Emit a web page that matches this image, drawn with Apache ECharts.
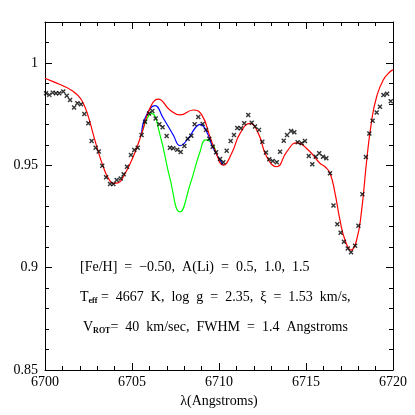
<!DOCTYPE html>
<html>
<head>
<meta charset="utf-8">
<script src="https://cdn.jsdelivr.net/npm/echarts@6/dist/echarts.min.js"></script>
<style>
  html, body { margin: 0; padding: 0; background: #fff; }
  #chart { width: 415px; height: 415px; }
</style>
</head>
<body>
<div id="chart"></div>
<script>
// observed spectrum (crosses)
const obsWave = [
  6700.06, 6700.25, 6700.44, 6700.63, 6700.82, 6701.05, 6701.25, 6701.44, 6701.67, 6701.86,
  6702.07, 6702.26, 6702.49, 6702.68, 6702.91, 6703.09, 6703.29, 6703.51, 6703.74, 6703.93,
  6704.12, 6704.35, 6704.52, 6704.71, 6704.94, 6705.13, 6705.33, 6705.55, 6705.75, 6705.98,
  6706.17, 6706.36, 6706.57, 6706.76, 6706.99, 6707.18, 6707.37, 6707.60, 6707.80, 6708.01,
  6708.20, 6708.41, 6708.60, 6708.81, 6709.06, 6709.25, 6709.44, 6709.64, 6709.83, 6710.06,
  6710.25, 6710.44, 6710.67, 6710.86, 6711.05, 6711.26, 6711.45, 6711.68, 6711.88, 6712.07,
  6712.30, 6712.49, 6712.70, 6712.89, 6713.09, 6713.32, 6713.51, 6713.72, 6713.91, 6714.14,
  6714.33, 6714.52, 6714.75, 6714.94, 6715.16, 6715.36, 6715.56, 6715.76, 6715.98, 6716.17,
  6716.38, 6716.58, 6716.80, 6716.99, 6717.18, 6717.40, 6717.59, 6717.82, 6718.01, 6718.24,
  6718.44, 6718.64, 6718.83, 6719.06, 6719.25, 6719.45, 6719.66, 6719.87
];
const obsFlux = [
  0.9852, 0.9844, 0.9855, 0.9852, 0.9852, 0.9860, 0.9840, 0.9819, 0.9782, 0.9803,
  0.9798, 0.9751, 0.9705, 0.9619, 0.9586, 0.9567, 0.9498, 0.9442, 0.9409, 0.9409,
  0.9428, 0.9436, 0.9456, 0.9493, 0.9550, 0.9575, 0.9586, 0.9648, 0.9713, 0.9753,
  0.9765, 0.9729, 0.9701, 0.9686, 0.9643, 0.9586, 0.9583, 0.9576, 0.9565, 0.9594,
  0.9630, 0.9644, 0.9701, 0.9736, 0.9702, 0.9673, 0.9630, 0.9591, 0.9564, 0.9531,
  0.9515, 0.9571, 0.9619, 0.9648, 0.9682, 0.9681, 0.9705, 0.9746, 0.9708, 0.9689,
  0.9673, 0.9615, 0.9562, 0.9529, 0.9521, 0.9515, 0.9566, 0.9620, 0.9648, 0.9668,
  0.9661, 0.9612, 0.9608, 0.9619, 0.9545, 0.9505, 0.9542, 0.9559, 0.9542, 0.9534,
  0.9461, 0.9304, 0.9212, 0.9171, 0.9127, 0.9094, 0.9075, 0.9107, 0.9205, 0.9358,
  0.9541, 0.9655, 0.9718, 0.9758, 0.9786, 0.9843, 0.9850, 0.9813
];

// synthetic spectrum, A(Li) = 0.5 (red, full range)
const redWave = [
  6700.00, 6700.57, 6701.15, 6701.54, 6701.92, 6702.20, 6702.49, 6702.78, 6703.06, 6703.35,
  6703.64, 6703.93, 6704.20, 6704.50, 6705.07, 6705.56, 6706.03, 6706.51, 6707.18, 6707.76,
  6708.52, 6709.01, 6709.48, 6709.77, 6710.25, 6710.73, 6711.21, 6711.78, 6712.26, 6712.74,
  6713.32, 6713.89, 6714.47, 6715.13, 6715.80, 6716.09, 6716.38, 6716.67, 6716.95, 6717.24,
  6717.59, 6717.91, 6718.20, 6718.49, 6718.78, 6719.06, 6719.44, 6719.83, 6720.00
];
const redFlux = [
  0.9925, 0.9905, 0.9884, 0.9865, 0.9839, 0.9803, 0.9738, 0.9649, 0.9567, 0.9493,
  0.9437, 0.9412, 0.9414, 0.9444, 0.9542, 0.9656, 0.9779, 0.9823, 0.9770, 0.9746,
  0.9770, 0.9746, 0.9640, 0.9575, 0.9501, 0.9559, 0.9656, 0.9705, 0.9656, 0.9542,
  0.9493, 0.9566, 0.9610, 0.9575, 0.9510, 0.9493, 0.9461, 0.9363, 0.9233, 0.9135,
  0.9086, 0.9135, 0.9282, 0.9526, 0.9721, 0.9835, 0.9917, 0.9957, 0.9966
];

// A(Li) = 1.0 (blue) and 1.5 (green), only where they leave the red curve
const blueWave = [6705.56, 6705.75, 6706.32, 6706.80, 6707.37, 6707.76, 6708.24, 6708.62, 6708.91, 6709.29, 6709.67, 6710.25];
const blueFlux = [0.9656, 0.9730, 0.9791, 0.9730, 0.9648, 0.9596, 0.9632, 0.9681, 0.9700, 0.9664, 0.9583, 0.9501];
const greenWave = [6705.56, 6706.13, 6706.61, 6707.18, 6707.76, 6708.33, 6708.91, 6709.24, 6709.67, 6709.87, 6710.25];
const greenFlux = [0.9656, 0.9754, 0.9648, 0.9436, 0.9272, 0.9404, 0.9566, 0.9624, 0.9599, 0.9550, 0.9501];

const pairs = (xs, ys) => xs.map((x, i) => [x, ys[i]]);

const FONT = '"Liberation Serif", "DejaVu Serif", serif';
const chart = echarts.init(document.getElementById('chart'));

const xBase = {
  type: 'value', min: 6700, max: 6720, interval: 5,
  axisLine: { show: true, onZero: false, lineStyle: { color: '#000', width: 1 } },
  axisTick: { show: true, inside: true, length: 7, lineStyle: { color: '#000' } },
  minorTick: { show: true, splitNumber: 5, length: 4, lineStyle: { color: '#000' } },
  splitLine: { show: false }
};
const yMajor = {
  type: 'value', min: 0.85, max: 1.02, interval: 0.05,
  axisLine: { show: true, onZero: false, lineStyle: { color: '#000', width: 1 } },
  axisTick: { show: true, inside: true, length: 7, lineStyle: { color: '#000' } },
  splitLine: { show: false }
};
const yMinor = {
  type: 'value', min: 0.85, max: 1.02, interval: 0.01,
  axisLine: { show: false },
  axisTick: { show: true, inside: true, length: 4, lineStyle: { color: '#000' } },
  axisLabel: { show: false },
  splitLine: { show: false }
};

const richStyle = {
  m: { fontFamily: FONT, fontSize: 14, lineHeight: 15, fill: '#000' },
  s: { fontFamily: FONT, fontSize: 8, fontWeight: 'bold', lineHeight: 8, verticalAlign: 'bottom', fill: '#000' }
};

chart.setOption({
  animation: false,
  backgroundColor: '#fff',
  grid: { left: 45, right: 22, top: 22, bottom: 45 },
  xAxis: [
    Object.assign({}, xBase, {
      position: 'bottom',
      name: 'λ(Angstroms)', nameLocation: 'middle', nameGap: 23,
      nameTextStyle: { fontFamily: FONT, fontSize: 14, color: '#000' },
      axisLabel: { fontFamily: FONT, fontSize: 14, color: '#000', margin: 5, formatter: v => String(v) }
    }),
    Object.assign({}, xBase, { position: 'top', axisLabel: { show: false } })
  ],
  yAxis: [
    Object.assign({}, yMajor, {
      position: 'left',
      axisLabel: { fontFamily: FONT, fontSize: 14, color: '#000', margin: 7, showMaxLabel: false }
    }),
    Object.assign({}, yMinor, { position: 'left' }),
    Object.assign({}, yMajor, { position: 'right', axisLabel: { show: false } }),
    Object.assign({}, yMinor, { position: 'right' })
  ],
  series: [
    {
      name: 'A(Li)=1.5', type: 'line', data: pairs(greenWave, greenFlux),
      smooth: 0.5, showSymbol: false, lineStyle: { color: '#00ff00', width: 1.2 }, z: 2
    },
    {
      name: 'A(Li)=1.0', type: 'line', data: pairs(blueWave, blueFlux),
      smooth: 0.5, showSymbol: false, lineStyle: { color: '#0000ff', width: 1.2 }, z: 3
    },
    {
      name: 'A(Li)=0.5', type: 'line', data: pairs(redWave, redFlux),
      smooth: 0.5, showSymbol: false, lineStyle: { color: '#ff0000', width: 1.2 }, z: 4
    },
    {
      name: 'observed', type: 'scatter', data: pairs(obsWave, obsFlux),
      symbol: 'path://M0,0L10,10M10,0L0,10', symbolSize: 4,
      itemStyle: { color: 'none', borderColor: '#000', borderWidth: 1.4 }, z: 5
    }
  ],
  graphic: [
    {
      type: 'text', left: 80, top: 260,
      style: { text: '[Fe/H]  =  −0.50,  A(Li)  =  0.5,  1.0,  1.5', font: '14px ' + FONT, fill: '#000' }
    },
    {
      type: 'text', left: 80, top: 290,
      style: { text: '{m|T}{s|eff}{m| =  4667  K,  log  g  =  2.35,  ξ  =  1.53  km/s,}', rich: richStyle }
    },
    {
      type: 'text', left: 83, top: 320,
      style: { text: '{m|V}{s|ROT}{m|=  40  km/sec,  FWHM  =  1.4  Angstroms}', rich: richStyle }
    }
  ]
});
</script>
</body>
</html>
